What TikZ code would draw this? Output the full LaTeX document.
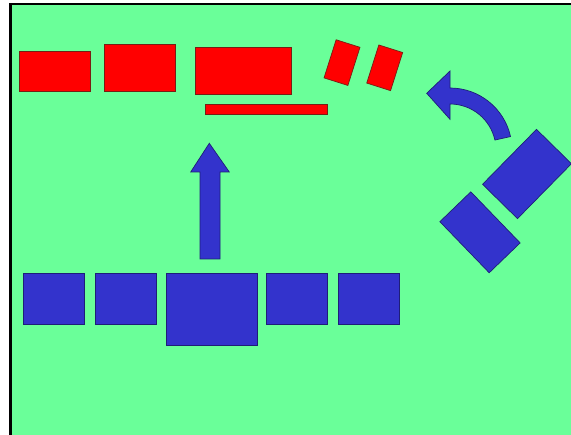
\documentclass[tikz,border=0pt]{standalone}
\usepackage{tikz}
\usetikzlibrary{calc}
\definecolor{bggreen}{RGB}{106,255,153}
\definecolor{shapeblue}{RGB}{51,51,204}
\definecolor{blueedge}{RGB}{30,30,120}
\definecolor{rededge}{RGB}{120,30,20}
\tikzset{
  redbox/.style={draw=rededge, fill=red, line width=0.7pt, inner sep=0pt, outer sep=0pt},
  bluebox/.style={draw=blueedge, fill=shapeblue, line width=0.7pt, inner sep=0pt, outer sep=0pt},
}
\begin{document}
\begin{tikzpicture}[x=1pt,y=1pt]
\useasboundingbox (0,0) rectangle (571,-435);
\fill[white] (0,0) rectangle (571,-435);
\fill[black] (9,-3) rectangle (575,-440);
\fill[bggreen] (11.5,-5.5) rectangle (575,-440);

% red boxes
\node[redbox, minimum width=71pt, minimum height=40pt] (r1) at (54.5,-71) {};
\node[redbox, minimum width=71pt, minimum height=47pt] (r2) at (139.5,-67.5) {};
\node[redbox, minimum width=96pt, minimum height=47pt] (r3) at (243,-70.5) {};
\node[redbox, minimum width=122pt, minimum height=10pt] (bar) at (266,-109.5) {};
\node[redbox, minimum width=25pt, minimum height=40pt, rotate=-17.6] (t1) at (342,-62.6) {};
\node[redbox, minimum width=25pt, minimum height=40pt, rotate=-17.6] (t2) at (384.7,-67.8) {};

% blue squares
\node[bluebox, minimum width=61pt, minimum height=51pt] (s1) at (53.7,-298.7) {};
\node[bluebox, minimum width=61pt, minimum height=51pt] (s2) at (125.5,-298.7) {};
\node[bluebox, minimum width=91pt, minimum height=72pt] (s3) at (212.2,-309.5) {};
\node[bluebox, minimum width=61pt, minimum height=51pt] (s4) at (297.3,-298.7) {};
\node[bluebox, minimum width=61pt, minimum height=51pt] (s5) at (369.2,-298.7) {};

% tilted blue boxes
\node[bluebox, minimum width=77pt, minimum height=49pt, rotate=45.5] (b1) at (527,-174) {};
\node[bluebox, minimum width=71pt, minimum height=43pt, rotate=-46] (b2) at (480,-232.3) {};

% straight arrow
\filldraw[bluebox] (209.3,-143.3) -- (229.3,-172) -- (220,-172) -- (220,-259)
  -- (200,-259) -- (200,-172) -- (190.7,-172) -- cycle;

% curved arrow
\filldraw[bluebox] ($(450,-150)+(12.5:62)$) arc[start angle=12.5, end angle=90, radius=62]
  -- (450,-71) -- (426.7,-93.3) -- (450,-119.3) -- (450,-104)
  arc[start angle=90, end angle=12.5, radius=46] -- cycle;
\end{tikzpicture}
\end{document}
